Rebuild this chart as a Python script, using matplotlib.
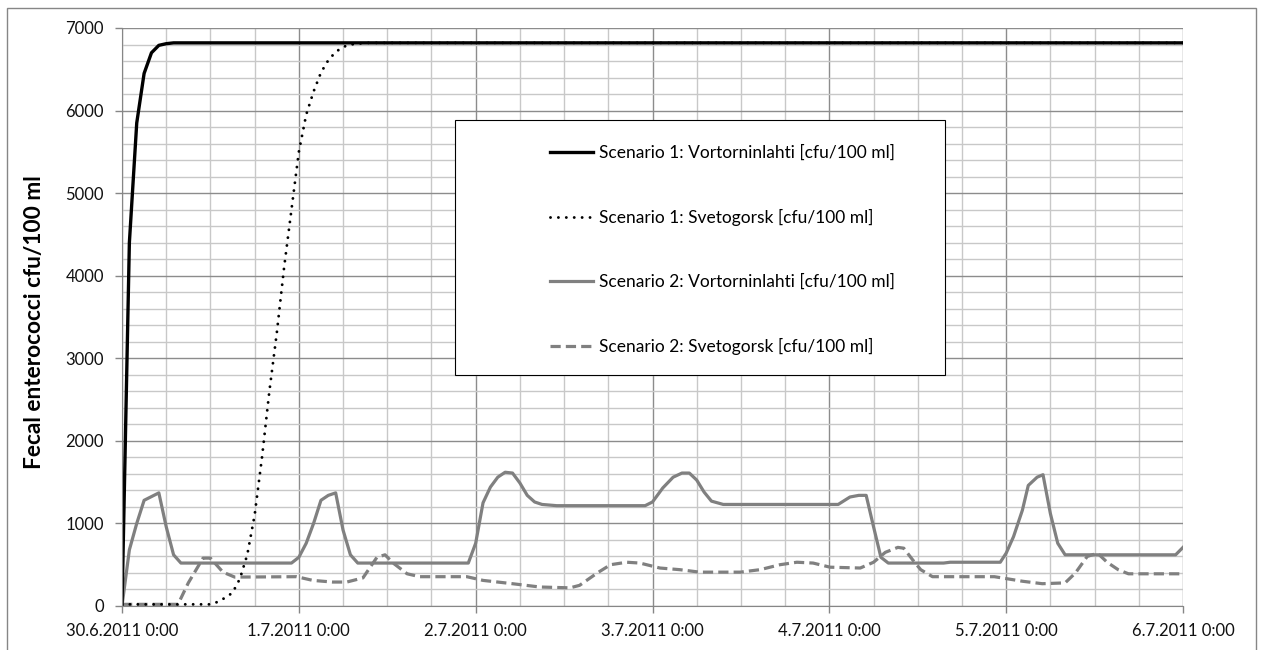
import matplotlib
matplotlib.use("Agg")
import matplotlib.pyplot as plt
from matplotlib.patches import Rectangle
from matplotlib.ticker import MultipleLocator

plt.rcParams['font.family'] = ['Lato', 'DejaVu Sans']

# hours since 30.6.2011 0:00
day_labels = ['30.6.2011 0:00', '1.7.2011 0:00', '2.7.2011 0:00', '3.7.2011 0:00',
              '4.7.2011 0:00', '5.7.2011 0:00', '6.7.2011 0:00']

s1_vort_h = [0, 1, 2, 3, 4, 5, 6, 7, 144]
s1_vort = [0, 4400, 5850, 6450, 6700, 6790, 6810, 6820, 6820]

s1_svet_h = [0, 12, 13, 14, 15, 16, 17, 18, 19, 20, 21, 22, 23, 24, 25, 26, 27,
             28, 29, 30, 31, 32, 33, 144]
s1_svet = [20, 20, 50, 100, 160, 330, 620, 1100, 1800, 2600, 3300, 4100, 4800,
           5500, 5950, 6230, 6460, 6610, 6710, 6770, 6800, 6810, 6820, 6820]

s2_vort_h = [0, 1, 2, 3, 5, 6, 7, 8, 23, 24, 25, 26, 27, 28, 29, 30, 31, 32, 47,
             48, 49, 50, 51, 52, 53, 54, 55, 56, 57, 59, 71, 72, 73.4, 74.8, 76,
             77, 78, 79, 80, 81.6, 97.2, 98.8, 100, 101, 102, 103, 104, 111.5,
             112.4, 119.2, 120, 121, 122.2, 123, 124.2, 125, 126, 127, 128, 143, 144]
s2_vort = [0, 680, 1000, 1280, 1370, 960, 620, 520, 520, 590, 760, 1000, 1280,
           1340, 1370, 920, 620, 520, 520, 760, 1250, 1440, 1560, 1620, 1610, 1490,
           1340, 1260, 1230, 1215, 1215, 1260, 1430, 1560, 1610, 1610, 1525, 1380,
           1270, 1230, 1230, 1320, 1340, 1340, 960, 590, 520, 520, 530, 530, 640,
           840, 1160, 1460, 1560, 1590, 1120, 760, 620, 620, 710]

s2_svet_h = [0, 7.6, 9, 11, 12, 13.7, 15.3, 23.7, 25.9, 28.6, 30.5, 32.7, 34.6,
             35.7, 36.8, 38.7, 40.4, 46.8, 49, 53, 56.7, 60.8, 62.1, 64.5, 66.3,
             68.5, 70.3, 73, 75.7, 78.4, 83.9, 86.6, 89.3, 91.6, 93.8, 96.1, 100.2,
             102, 103.6, 105.3, 106.1, 107.3, 108.4, 110, 118.4, 122.2, 124.9, 128,
             129.4, 131, 132.4, 133.7, 135.2, 136.6, 144]
s2_svet = [20, 20, 280, 580, 580, 410, 350, 355, 310, 290, 290, 340, 590, 620,
           520, 390, 355, 355, 310, 270, 230, 220, 250, 400, 500, 530, 520, 460,
           440, 410, 410, 440, 500, 530, 520, 470, 460, 530, 650, 710, 700, 560,
           440, 355, 355, 300, 270, 280, 400, 600, 640, 530, 440, 390, 390]

W, H = 1264, 650
fig = plt.figure(figsize=(W / 100, H / 100), dpi=100)
ax = fig.add_axes([122 / W, 1 - 606 / H, (1183 - 122) / W, (606 - 28) / H])

ax.plot(s2_svet_h, s2_svet, color='#808080', lw=2.3, dashes=(3.2, 1.6),
        label='Scenario 2: Svetogorsk [cfu/100 ml]', zorder=2)
ax.plot(s2_vort_h, s2_vort, color='#808080', lw=2.3, solid_joinstyle='round',
        label='Scenario 2: Vortorninlahti [cfu/100 ml]', zorder=2)
ax.plot(s1_svet_h, s1_svet, color='black', lw=2.1, linestyle=(0, (0.01, 2.7)),
        dash_capstyle='round', label='Scenario 1: Svetogorsk [cfu/100 ml]', zorder=2)
ax.plot(s1_vort_h, s1_vort, color='black', lw=2.4, solid_joinstyle='round',
        label='Scenario 1: Vortorninlahti [cfu/100 ml]', zorder=2.5)

ax.set_xlim(0, 144)
ax.set_ylim(0, 7000)
ax.set_xticks(range(0, 145, 24))
ax.set_xticklabels(day_labels)
ax.xaxis.set_minor_locator(MultipleLocator(6))
ax.set_yticks(range(0, 7001, 1000))
ax.yaxis.set_minor_locator(MultipleLocator(200))

ax.grid(which='major', color='#8c8c8c', lw=1.0)
ax.grid(which='minor', color='#c8c8c8', lw=1.0)
ax.set_axisbelow(True)
for side in ['top', 'right']:
    ax.spines[side].set_visible(False)
for side in ['left', 'bottom']:
    ax.spines[side].set_color('#868686')
ax.tick_params(which='major', length=5, width=1, color='#868686',
               labelsize=12, labelcolor='#111111')
ax.tick_params(axis='y', pad=8)
ax.tick_params(axis='x', pad=7)
ax.tick_params(which='minor', length=0)

ax.set_ylabel('Fecal enterococci cfu/100 ml', fontsize=16.3, fontweight='bold')
ax.yaxis.set_label_coords(-0.0726, 0.491)

# legend box
box = Rectangle((455 / W, 1 - 375 / H), 490 / W, 255 / H, transform=fig.transFigure,
                facecolor='white', edgecolor='black', lw=0.8, zorder=4, clip_on=False)
ax.add_patch(box)
handles, labels = ax.get_legend_handles_labels()
leg = ax.legend(handles[::-1], labels[::-1], loc='upper left',
                bbox_to_anchor=(550 / W, 1 - 145 / H), bbox_transform=fig.transFigure,
                frameon=False, fontsize=12.5, handlelength=2.5, handletextpad=0.3,
                labelspacing=2.75, borderpad=0, borderaxespad=0)
leg.set_zorder(5)

# outer chart frame
fig.patches.append(Rectangle((7 / W, -0.05), (1256 - 7) / W, 1.05 - 8 / H,
                             transform=fig.transFigure, fill=False,
                             edgecolor='#868686', lw=1.0))

fig.savefig('out.png', dpi=100)
